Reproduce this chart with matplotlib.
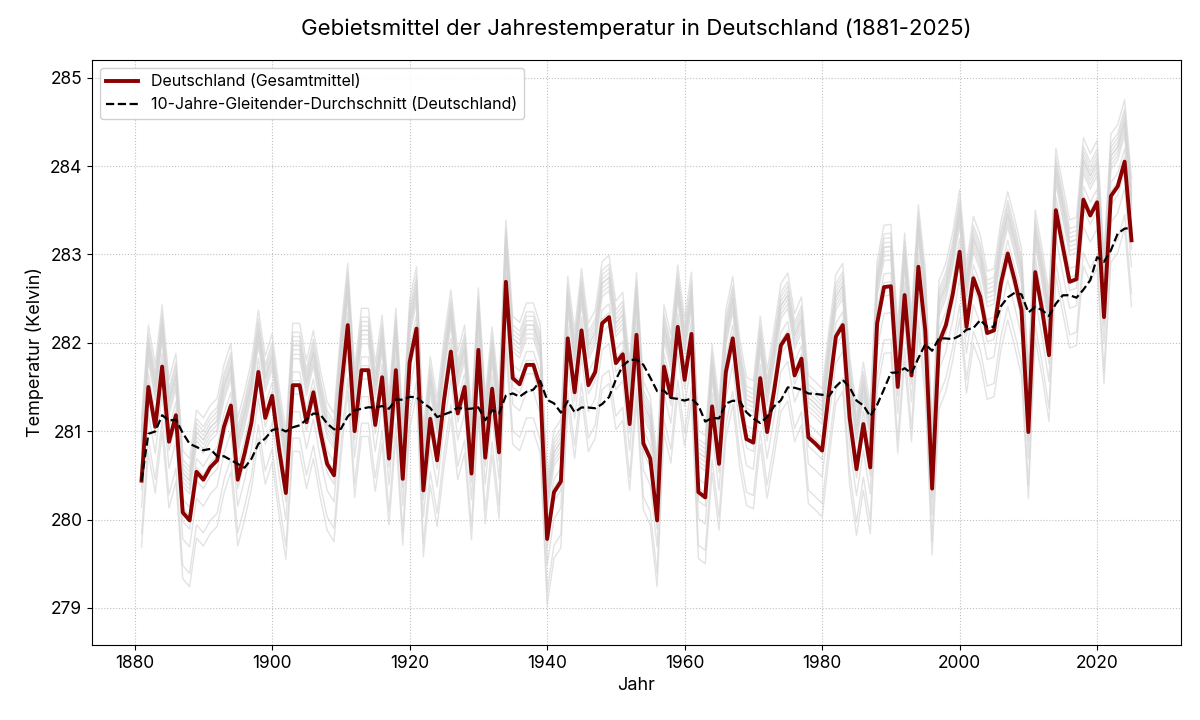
import numpy as np
import pandas as pd
import matplotlib
matplotlib.use("Agg")
import matplotlib.pyplot as plt

plt.rcParams['font.family'] = ['Inter', 'DejaVu Sans']

years = list(range(1881, 2026))

deutschland = [
    280.44, 281.50, 281.05, 281.73, 280.88, 281.18, 280.08, 279.99, 280.54, 280.45,  # 1881-1890
    280.59, 280.67, 281.05, 281.29, 280.45, 280.75, 281.10, 281.67, 281.15, 281.40,  # 1891-1900
    280.80, 280.30, 281.52, 281.52, 281.10, 281.44, 281.00, 280.63, 280.50, 281.45,  # 1901-1910
    282.20, 281.00, 281.69, 281.69, 281.07, 281.61, 280.69, 281.69, 280.46, 281.78,  # 1911-1920
    282.16, 280.33, 281.14, 280.67, 281.35, 281.90, 281.20, 281.50, 280.52, 281.92,  # 1921-1930
    280.70, 281.48, 280.76, 282.69, 281.60, 281.53, 281.75, 281.75, 281.50, 279.78,  # 1931-1940
    280.31, 280.43, 282.05, 281.44, 282.14, 281.52, 281.67, 282.22, 282.29, 281.77,  # 1941-1950
    281.87, 281.08, 282.09, 280.86, 280.69, 279.99, 281.73, 281.39, 282.18, 281.58,  # 1951-1960
    282.10, 280.31, 280.25, 281.28, 280.63, 281.67, 282.05, 281.35, 280.91, 280.87,  # 1961-1970
    281.60, 280.99, 281.45, 281.97, 282.09, 281.63, 281.82, 280.93, 280.86, 280.78,  # 1971-1980
    281.45, 282.07, 282.20, 281.15, 280.57, 281.08, 280.59, 282.22, 282.63, 282.64,  # 1981-1990
    281.50, 282.54, 281.63, 282.86, 282.14, 280.35, 282.00, 282.20, 282.55, 283.03,  # 1991-2000
    282.18, 282.73, 282.52, 282.11, 282.14, 282.67, 283.01, 282.71, 282.37, 280.99,  # 2001-2010
    282.80, 282.37, 281.86, 283.50, 283.09, 282.69, 282.72, 283.62, 283.44, 283.59,  # 2011-2020
    282.29, 283.66, 283.77, 284.05, 283.16,                                          # 2021-2025
]

# estimated mean offsets of the individual Bundeslaender relative to the German mean (K)
laender = ["Baden-Württemberg", "Bayern", "Berlin", "Brandenburg", "Bremen", "Hamburg",
           "Hessen", "Mecklenburg-Vorpommern", "Niedersachsen", "Nordrhein-Westfalen",
           "Rheinland-Pfalz", "Saarland", "Sachsen", "Sachsen-Anhalt", "Schleswig-Holstein",
           "Thüringen"]
laender_offset = [-0.10, -0.75, 0.70, 0.45, 0.55, 0.50, 0.00, 0.05, 0.35, 0.60,
                  0.30, 0.45, -0.30, 0.40, 0.15, -0.60]

title = "Gebietsmittel der Jahrestemperatur in Deutschland (1881-2025)"
xlabel = "Jahr"
ylabel = "Temperatur (Kelvin)"
label_de = "Deutschland (Gesamtmittel)"
label_ma = "10-Jahre-Gleitender-Durchschnitt (Deutschland)"

de = pd.Series(deutschland, index=years)
ma = de.rolling(10, min_periods=1).mean()

fig = plt.figure(figsize=(12, 7.2), dpi=100)
ax = fig.add_axes([92/1200, 1 - 645/720, (1181-92)/1200, (645-60)/720])

for name, off in zip(laender, laender_offset):
    ax.plot(years, de.values + off, color='#d4d4d4', lw=1.0, alpha=0.65, zorder=1)

ax.plot(years, de.values, color='#8b0000', lw=2.8, label=label_de, zorder=3)
ax.plot(years, ma.values, color='black', lw=1.6, ls='--', label=label_ma, zorder=4)

ax.set_ylim(278.58, 285.2)
ax.set_xticks([1880, 1900, 1920, 1940, 1960, 1980, 2000, 2020])
ax.set_yticks([279, 280, 281, 282, 283, 284, 285])
ax.tick_params(labelsize=12.5)
ax.grid(True, ls=':', color='#b0b0b0', alpha=0.8)
ax.set_axisbelow(True)

ax.set_title(title, fontsize=16, pad=18)
ax.set_xlabel(xlabel, fontsize=13)
ax.set_ylabel(ylabel, fontsize=13)
ax.legend(loc='upper left', fontsize=11.5, framealpha=0.9)

fig.savefig("out.png", dpi=100)
